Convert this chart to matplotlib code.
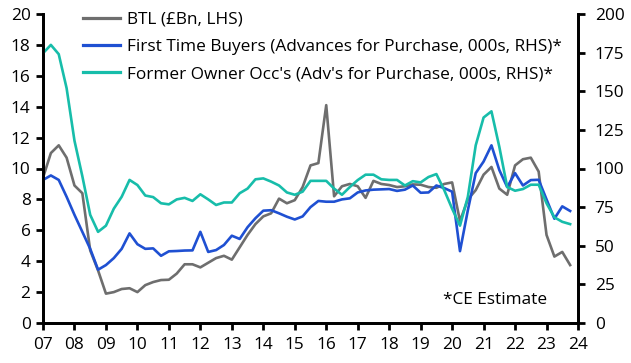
import matplotlib
matplotlib.use("Agg")
import matplotlib.pyplot as plt
import numpy as np

# Quarterly data 2007Q1 .. 2023Q4
btl = [9.4, 11.0, 11.5, 10.7,
       8.9, 8.4, 4.7, 3.4,
       1.9, 2.0, 2.2, 2.25,
       2.0, 2.45, 2.65, 2.78,
       2.8, 3.2, 3.8, 3.8,
       3.6, 3.9, 4.2, 4.35,
       4.1, 4.9, 5.7, 6.4,
       6.9, 7.1, 8.05, 7.75,
       7.95, 8.8, 10.2, 10.35,
       14.1, 8.2, 8.85, 9.0,
       8.85, 8.1, 9.2, 9.0,
       8.93, 8.8, 8.85, 8.97,
       8.95, 8.8, 8.75, 9.0,
       9.1, 6.6, 8.0, 8.6,
       9.6, 10.1, 8.7, 8.3,
       10.2, 10.6, 10.7, 9.8,
       5.7, 4.3, 4.6, 3.75]

ftb = [92.6, 95.5, 92.6, 81.7,
       70, 59, 48, 34.5,
       37.5, 42, 48, 58,
       51, 48, 48.3, 43.5,
       46.4, 46.6, 46.9, 47,
       59, 46, 47.2, 50.5,
       56.5, 54.4, 62, 67.8,
       72.7, 73, 71, 68.8,
       67, 69, 75, 79,
       78.5, 78.5, 80, 80.7,
       84.5, 85.8, 86.3, 86.5,
       86.7, 85.5, 86.3, 89,
       84.3, 84.5, 89, 87.3,
       85, 46.5, 73, 97,
       104.5, 115, 99, 88,
       97, 89, 92.5, 92.7,
       80, 67.5, 75.5, 72.5]

foo = [174.6, 180, 174, 152,
       118, 95, 70, 59,
       63, 74, 81.7, 92.6,
       89.3, 82.5, 81.5, 77.5,
       76.8, 80, 81, 79,
       83.3, 80, 76.4, 78,
       78, 84, 87, 93,
       93.6, 91.5, 89, 84.5,
       83, 85, 92, 92,
       92, 87, 83, 88,
       92.5, 96, 96, 93,
       92.6, 92.6, 89, 91.8,
       91, 94.5, 96.4, 86,
       74, 63, 81.7, 115,
       133, 137, 114, 88,
       85.6, 86.7, 89.5, 89.5,
       77.5, 68.4, 65.5, 64]

years = [str(y)[2:] for y in range(2007, 2025)]
x = 2007 + np.arange(len(btl)) * 0.25

GREY = '#6E6E6E'
BLUE = '#1F50D2'
TEAL = '#17BDAA'

FS = 12.4
plt.rcParams['font.family'] = ['Open Sans', 'DejaVu Sans']
plt.rcParams['font.size'] = FS

fig = plt.figure(figsize=(6.31, 3.63), dpi=100)
ax = fig.add_axes([43/631, 40/363, (578-43)/631, (323-14)/363])
ax2 = ax.twinx()

l1, = ax.plot(x, btl, color=GREY, lw=1.9, label='BTL (£Bn, LHS)')
l2, = ax2.plot(x, ftb, color=BLUE, lw=1.9, label='First Time Buyers (Advances for Purchase, 000s, RHS)*')
l3, = ax2.plot(x, foo, color=TEAL, lw=1.9, label="Former Owner Occ's (Adv's for Purchase, 000s, RHS)*")

ax.set_xlim(2007, 2024)
ax.set_ylim(0, 20)
ax2.set_ylim(0, 200)
ax.set_yticks(range(0, 21, 2))
ax2.set_yticks(range(0, 201, 25))
ax.set_xticks(range(2007, 2025))
ax.set_xticklabels(years)

for a in (ax, ax2):
    a.spines['top'].set_visible(False)
    for s in ('left', 'right', 'bottom'):
        a.spines[s].set_linewidth(2)
        a.spines[s].set_color('black')
    a.tick_params(direction='out', length=5, width=2, colors='black', labelsize=FS)
ax.tick_params(axis='x', pad=5)
ax.tick_params(axis='y', pad=4)
ax2.tick_params(axis='y', pad=7)

leg = ax2.legend(handles=[l1, l2, l3], loc='upper left', bbox_to_anchor=(0.061, 1.03),
                 frameon=False, handlelength=2.2, handletextpad=0.4,
                 labelspacing=0.65, fontsize=FS, borderaxespad=0)
for h in leg.get_lines():
    h.set_linewidth(2.3)

ax2.text(0.942, 0.075, '*CE Estimate', transform=ax.transAxes, ha='right', va='center', fontsize=FS)

fig.savefig('out.png', dpi=100)
